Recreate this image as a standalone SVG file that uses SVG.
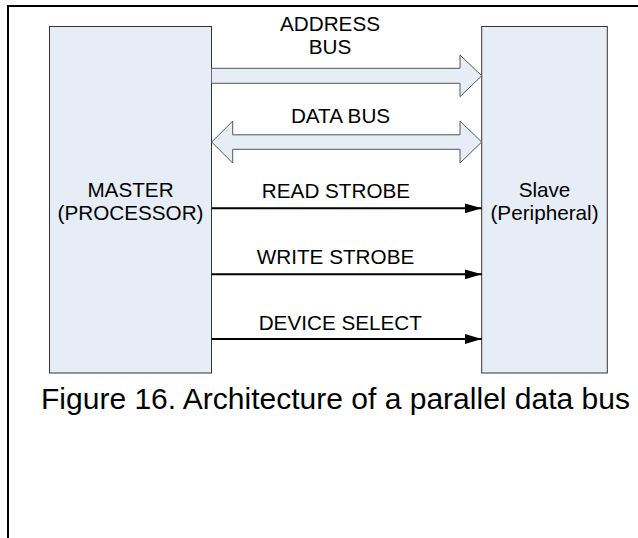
<svg xmlns="http://www.w3.org/2000/svg" width="638" height="538" viewBox="0 0 638 538">
<style>
.box{fill:#e6edf7;stroke:#333;stroke-width:1}
.bus{fill:#e6edf7;stroke:#555;stroke-width:1}
.sig{stroke:#000;stroke-width:2;fill:none}
.lbl{font-family:"Liberation Sans",Arial,sans-serif;font-size:20.7px;fill:#000;text-anchor:middle}
.cap{font-family:"Liberation Sans",Arial,sans-serif;font-size:30px;fill:#000}
</style>
<defs>
<marker id="ah" markerWidth="17" markerHeight="10" refX="17" refY="5" orient="auto" markerUnits="userSpaceOnUse">
<path d="M0,0 L17,5 L0,10 Z" fill="#000"/>
</marker>
</defs>
<path d="M8,538 L8,6 L638,6" fill="none" stroke="#000" stroke-width="2"/>
<g id="master">
<rect class="box" x="49.5" y="26.5" width="162" height="346.5"/>
<text class="lbl" x="130.5" y="197.3">MASTER</text>
<text class="lbl" x="130.5" y="220.3">(PROCESSOR)</text>
</g>
<g id="slave">
<rect class="box" x="481.7" y="26.5" width="125.6" height="346.5"/>
<text class="lbl" x="544.5" y="196.7">Slave</text>
<text class="lbl" x="544.5" y="220">(Peripheral)</text>
</g>
<g id="connectors">
<g id="address-bus">
<path class="bus" d="M211.7,68.3 L460,68.3 L460,55 L481.7,75.8 L460,96.7 L460,83.3 L211.7,83.3"/>
<text class="lbl" x="330" y="31">ADDRESS</text>
<text class="lbl" x="330" y="54">BUS</text>
</g>
<g id="data-bus">
<path class="bus" d="M211.7,142 L232.7,121 L232.7,134.8 L460,134.8 L460,121 L481.7,142 L460,163 L460,149.3 L232.7,149.3 L232.7,163 Z"/>
<text class="lbl" x="340.5" y="123.3">DATA BUS</text>
</g>
<g id="read-strobe">
<line class="sig" x1="211.7" y1="208.3" x2="481.7" y2="208.3" marker-end="url(#ah)"/>
<text class="lbl" x="336" y="198.3">READ STROBE</text>
</g>
<g id="write-strobe">
<line class="sig" x1="211.7" y1="274.3" x2="481.7" y2="274.3" marker-end="url(#ah)"/>
<text class="lbl" x="335.5" y="264.3">WRITE STROBE</text>
</g>
<g id="device-select">
<line class="sig" x1="211.7" y1="339" x2="481.7" y2="339" marker-end="url(#ah)"/>
<text class="lbl" x="340.3" y="330">DEVICE SELECT</text>
</g>
</g>
<text class="cap" x="41" y="409" textLength="589" lengthAdjust="spacingAndGlyphs">Figure 16. Architecture of a parallel data bus</text>
</svg>
